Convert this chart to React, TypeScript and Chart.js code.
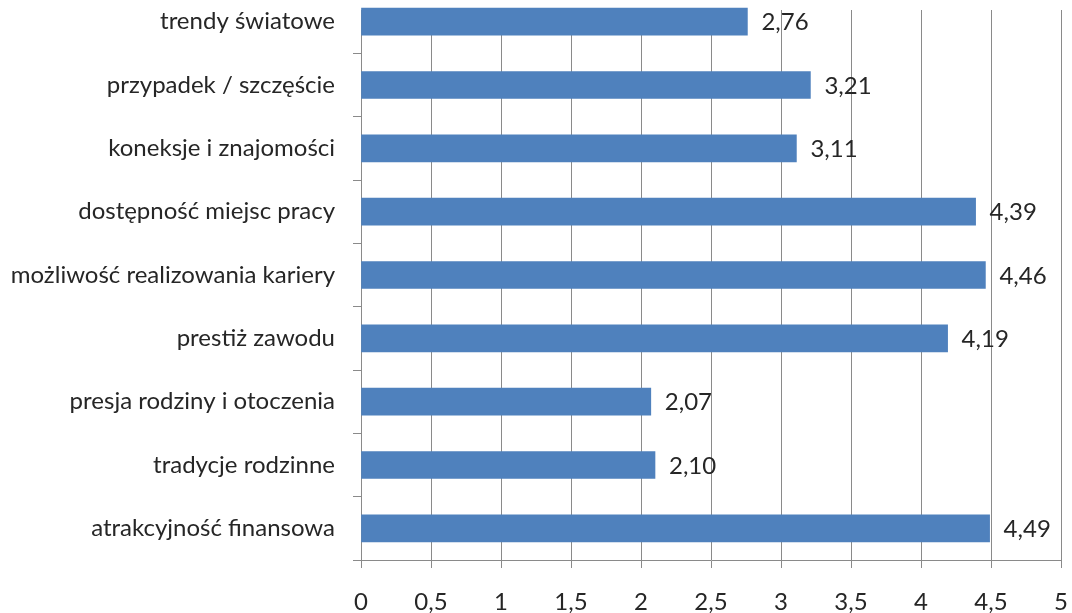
import React, { useEffect, useRef } from "react";
import { Chart, registerables } from "chart.js";

Chart.register(...registerables);

const categories = [
  "trendy światowe",
  "przypadek / szczęście",
  "koneksje i znajomości",
  "dostępność miejsc pracy",
  "możliwość realizowania kariery",
  "prestiż zawodu",
  "presja rodziny i otoczenia",
  "tradycje rodzinne",
  "atrakcyjność finansowa",
];
const values = [2.76, 3.21, 3.11, 4.39, 4.46, 4.19, 2.07, 2.1, 4.49];
const xTickLabels = ["0", "0,5", "1", "1,5", "2", "2,5", "3", "3,5", "4", "4,5", "5"];

const FONT = "Lato, 'Open Sans', sans-serif";
const FONT_SIZE = 24;
const TEXT_COLOR = "#262626";
const GRID_COLOR = "#8a8a8a";
const BAR_COLOR = "#4F81BD";

const CANVAS_TOP = -10; // page offset of canvas
const TOP_COVER_PAGE_Y = 10; // gridlines start below this page y

const valueLabelPlugin = {
  id: "valueLabels",
  beforeDatasetsDraw(chart: any) {
    const { ctx, chartArea } = chart;
    ctx.save();
    ctx.fillStyle = "#ffffff";
    ctx.fillRect(chartArea.left - 2, 0, chart.width, TOP_COVER_PAGE_Y - CANVAS_TOP);
    ctx.restore();
  },
  afterDatasetsDraw(chart: any) {
    const { ctx } = chart;
    const meta = chart.getDatasetMeta(0);
    ctx.save();
    ctx.font = `${FONT_SIZE}px ${FONT}`;
    ctx.fillStyle = TEXT_COLOR;
    ctx.textAlign = "left";
    ctx.textBaseline = "middle";
    meta.data.forEach((bar: any, i: number) => {
      const txt = values[i].toFixed(2).replace(".", ",");
      ctx.fillText(txt, bar.x + 14, bar.y + 1);
    });
    ctx.restore();
  },
};

export default function App() {
  const ref = useRef<HTMLCanvasElement | null>(null);
  useEffect(() => {
    if (!ref.current) return;
    const chart = new Chart(ref.current, {
      type: "bar",
      data: {
        labels: categories,
        datasets: [
          {
            data: values,
            backgroundColor: BAR_COLOR,
            borderWidth: 0,
            barThickness: 27,
          },
        ],
      },
      options: {
        indexAxis: "y",
        animation: false,
        responsive: true,
        maintainAspectRatio: false,
        layout: { padding: { top: 0, right: 11, left: 0, bottom: 0 } },
        plugins: {
          legend: { display: false },
          tooltip: { enabled: false },
        },
        scales: {
          x: {
            type: "linear",
            min: 0,
            max: 5,
            ticks: {
              stepSize: 0.5,
              color: TEXT_COLOR,
              font: { family: FONT, size: FONT_SIZE },
              padding: 20,
              maxRotation: 0,
              callback: (_v: any, i: number) => xTickLabels[i],
            },
            grid: {
              color: GRID_COLOR,
              lineWidth: 1,
              tickLength: 8,
              drawTicks: true,
            },
            border: { color: GRID_COLOR, width: 1 },
            afterFit: (s: any) => {
              s.height = 57;
              s.paddingLeft = 0;
              s.paddingRight = 0;
            },
          },
          y: {
            type: "category",
            offset: true,
            ticks: {
              color: TEXT_COLOR,
              font: { family: FONT, size: FONT_SIZE },
              padding: 18,
              autoSkip: false,
            },
            grid: {
              offset: true,
              drawOnChartArea: false,
              drawTicks: true,
              tickLength: 8,
              color: GRID_COLOR,
            },
            border: { color: GRID_COLOR, width: 1 },
            afterFit: (s: any) => {
              s.width = 361;
              s.paddingTop = 0;
              s.paddingBottom = 0;
            },
          },
        },
      },
      plugins: [valueLabelPlugin],
    });
    return () => chart.destroy();
  }, []);

  return (
    <div style={{ position: "fixed", left: 0, top: 0, width: 1072, height: 613, overflow: "hidden", background: "#fff" }}>
      <div style={{ position: "absolute", left: 0, top: CANVAS_TOP, width: 1072, height: 627 }}>
        <canvas ref={ref} />
      </div>
    </div>
  );
}
